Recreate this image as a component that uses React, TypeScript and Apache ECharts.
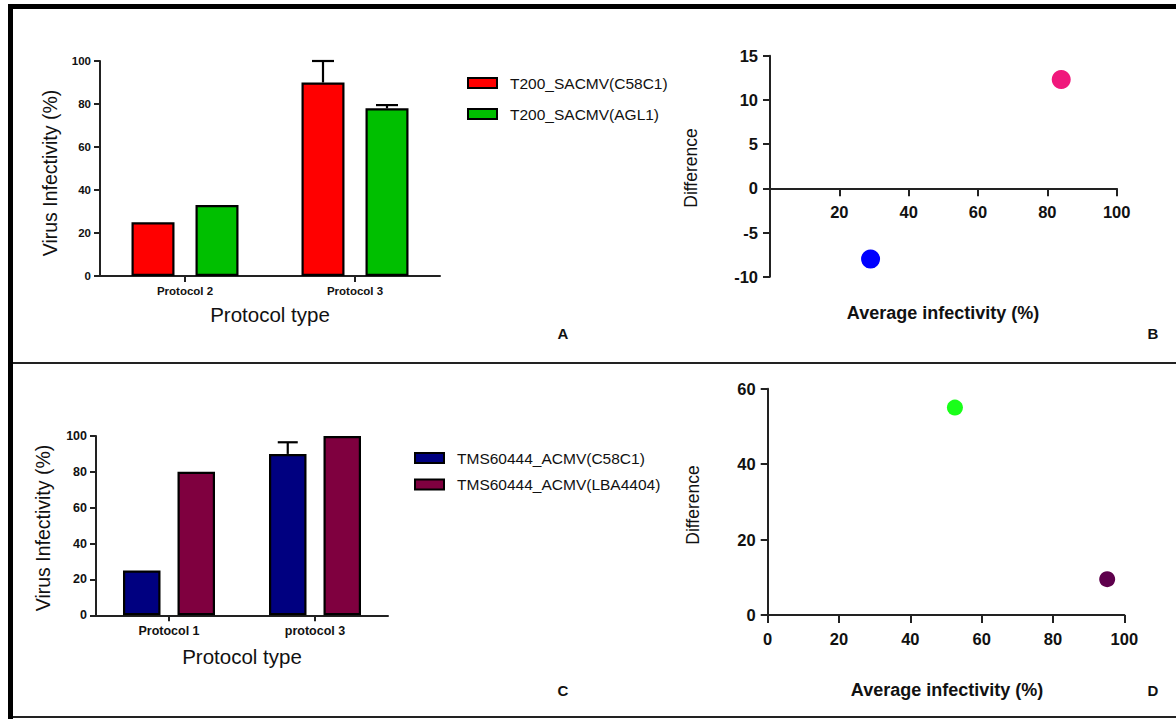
import React, { useEffect, useRef } from "react";
import * as echarts from "echarts";

// ---- Data ----
const categoriesA = ["Protocol 2", "Protocol 3"];
const namesA = ["T200_SACMV(C58C1)", "T200_SACMV(AGL1)"];
const valuesA1 = [25, 90];
const errorsA1 = [0, 10];
const valuesA2 = [33, 78];
const errorsA2 = [0, 1.5];

const categoriesC = ["Protocol 1", "protocol 3"];
const namesC = ["TMS60444_ACMV(C58C1)", "TMS60444_ACMV(LBA4404)"];
const valuesC1 = [25, 90];
const errorsC1 = [0, 6.5];
const valuesC2 = [80, 100];
const errorsC2 = [0, 0];

const averageB = [29, 84];
const differenceB = [-8, 12.3];
const averageD = [52.5, 95.2];
const differenceD = [55, 9.5];

const ticksBarY = { min: 0, max: 100, interval: 20 };
const ticksBY = { min: -10, max: 15, interval: 5 };
const ticksDY = { min: 0, max: 60, interval: 20 };
const ticksX = { min: 0, max: 100, interval: 20 };

// ---- Styles ----
const FONT = "'Liberation Sans', Arial, sans-serif";
const colorsA = ["#ff0000", "#00bf00"];
const colorsC = ["#000080", "#7f003f"];
const pointColorsB = ["#0000ff", "#f0187c"];
const pointColorsD = ["#19ff19", "#5e004c"];
const AXIS = "#222";

const barWA = 43;
const gapA = 21;
const barWC = 37.5;
const gapC = 17;

const gridB = { left: 770, top: 55.7, width: 346.7, height: 221 };

function errorSeries(xi: number, yi: number, values: number[], errors: number[], offset: number, cap: number) {
  return {
    type: "custom",
    xAxisIndex: xi,
    yAxisIndex: yi,
    z: 5,
    silent: true,
    encode: { x: 0, y: 1 },
    data: values.map((v, i) => [i, v, errors[i]]).filter((d) => d[2] > 0),
    renderItem: (params: any, api: any) => {
      const cat = api.value(0);
      const val = api.value(1);
      const err = api.value(2);
      const base = api.coord([cat, val]);
      const top = api.coord([cat, val + err]);
      const x = base[0] + offset;
      const style = { stroke: "#000", lineWidth: 2.2 };
      return {
        type: "group",
        children: [
          { type: "line", shape: { x1: x, y1: base[1], x2: x, y2: top[1] }, style },
          { type: "line", shape: { x1: x - cap, y1: top[1], x2: x + cap, y2: top[1] }, style },
        ],
      };
    },
  };
}

function valueAxis(gridIndex: number, ticks: any, opts: any = {}) {
  return {
    type: "value",
    gridIndex,
    min: ticks.min,
    max: ticks.max,
    interval: ticks.interval,
    offset: opts.offset ?? 0,
    splitLine: { show: false },
    axisLine: { show: true, onZero: false, lineStyle: { color: AXIS, width: 2 } },
    axisTick: { show: true, length: opts.tickLen ?? 6, lineStyle: { color: AXIS, width: 2 } },
    axisLabel: {
      fontFamily: FONT,
      fontWeight: "bold",
      fontSize: opts.fontSize ?? 11,
      color: "#111",
      margin: opts.margin ?? 9,
      showMinLabel: opts.showMinLabel ?? true,
    },
  };
}

function categoryAxis(gridIndex: number, data: string[], fontSize: number) {
  return {
    type: "category",
    gridIndex,
    data,
    axisLine: { show: true, lineStyle: { color: AXIS, width: 2 } },
    axisTick: { show: true, alignWithLabel: true, length: 6, lineStyle: { color: AXIS, width: 2 } },
    axisLabel: { fontFamily: FONT, fontWeight: "bold", fontSize, color: "#111", margin: 9 },
    splitLine: { show: false },
  };
}

function txt(text: string, x: number, y: number, size: number, bold = false, rotate = false) {
  return {
    type: "text",
    x,
    y,
    rotation: rotate ? Math.PI / 2 : 0,
    style: {
      text,
      fill: "#111",
      font: `${bold ? "bold " : ""}${size}px ${FONT}`,
      align: "center",
      verticalAlign: "middle",
    },
  };
}

export default function App() {
  const ref = useRef<HTMLDivElement>(null);

  useEffect(() => {
    if (!ref.current) return;
    const chart = echarts.init(ref.current, undefined, { renderer: "svg" });

    // x axis of panel B sits on the y = 0 line
    const zeroShiftB = -gridB.height * (0 - ticksBY.min) / (ticksBY.max - ticksBY.min);

    const option: any = {
      animation: false,
      backgroundColor: "#ffffff",
      textStyle: { fontFamily: FONT },
      grid: [
        { left: 100, top: 61, width: 340, height: 215, containLabel: false },
        { ...gridB, containLabel: false },
        { left: 96, top: 436, width: 292, height: 179.3, containLabel: false },
        { left: 767.7, top: 388.7, width: 356.6, height: 226.3, containLabel: false },
      ],
      xAxis: [
        categoryAxis(0, categoriesA, 11.5),
        valueAxis(1, ticksX, { fontSize: 16.5, margin: 15, tickLen: 8, showMinLabel: false, offset: zeroShiftB }),
        categoryAxis(2, categoriesC, 12.5),
        valueAxis(3, ticksX, { fontSize: 16.5, margin: 15, tickLen: 8 }),
      ],
      yAxis: [
        valueAxis(0, ticksBarY, { fontSize: 11.5, margin: 9 }),
        valueAxis(1, ticksBY, { fontSize: 16.5, margin: 12, tickLen: 7 }),
        valueAxis(2, ticksBarY, { fontSize: 12.5, margin: 9 }),
        valueAxis(3, ticksDY, { fontSize: 16.5, margin: 12, tickLen: 7 }),
      ],
      legend: [
        {
          data: namesA,
          left: 462,
          top: 70,
          orient: "vertical",
          itemWidth: 29,
          itemHeight: 10,
          itemGap: 15,
          icon: "rect",
          textStyle: { fontFamily: FONT, fontSize: 15.5, color: "#111", padding: [0, 0, 0, 8] },
        },
        {
          data: namesC,
          left: 409,
          top: 445,
          orient: "vertical",
          itemWidth: 29,
          itemHeight: 10,
          itemGap: 10.5,
          icon: "rect",
          textStyle: { fontFamily: FONT, fontSize: 15.5, color: "#111", padding: [0, 0, 0, 8] },
        },
      ],
      series: [
        {
          name: namesA[0],
          type: "bar",
          xAxisIndex: 0,
          yAxisIndex: 0,
          data: valuesA1,
          barWidth: barWA,
          barGap: `${(gapA / barWA) * 100}%`,
          itemStyle: { color: colorsA[0], borderColor: "#000", borderWidth: 2.2 },
        },
        {
          name: namesA[1],
          type: "bar",
          xAxisIndex: 0,
          yAxisIndex: 0,
          data: valuesA2,
          barWidth: barWA,
          barGap: `${(gapA / barWA) * 100}%`,
          itemStyle: { color: colorsA[1], borderColor: "#000", borderWidth: 2.2 },
        },
        errorSeries(0, 0, valuesA1, errorsA1, -(barWA + gapA) / 2, 11),
        errorSeries(0, 0, valuesA2, errorsA2, (barWA + gapA) / 2, 11),
        {
          name: namesC[0],
          type: "bar",
          xAxisIndex: 2,
          yAxisIndex: 2,
          data: valuesC1,
          barWidth: barWC,
          barGap: `${(gapC / barWC) * 100}%`,
          itemStyle: { color: colorsC[0], borderColor: "#000", borderWidth: 2.2 },
        },
        {
          name: namesC[1],
          type: "bar",
          xAxisIndex: 2,
          yAxisIndex: 2,
          data: valuesC2,
          barWidth: barWC,
          barGap: `${(gapC / barWC) * 100}%`,
          itemStyle: { color: colorsC[1], borderColor: "#000", borderWidth: 2.2 },
        },
        errorSeries(2, 2, valuesC1, errorsC1, -(barWC + gapC) / 2, 10),
        errorSeries(2, 2, valuesC2, errorsC2, (barWC + gapC) / 2, 10),
        {
          type: "scatter",
          xAxisIndex: 1,
          yAxisIndex: 1,
          symbolSize: 19,
          data: averageB.map((x, i) => ({
            value: [x, differenceB[i]],
            itemStyle: { color: pointColorsB[i], opacity: 1 },
          })),
        },
        {
          type: "scatter",
          xAxisIndex: 3,
          yAxisIndex: 3,
          symbolSize: 16,
          data: averageD.map((x, i) => ({
            value: [x, differenceD[i]],
            itemStyle: { color: pointColorsD[i], opacity: 1 },
          })),
        },
      ],
      graphic: [
        { type: "rect", shape: { x: 8, y: 4, width: 5, height: 715 }, style: { fill: "#000" } },
        { type: "rect", shape: { x: 8, y: 4, width: 1168, height: 5 }, style: { fill: "#000" } },
        { type: "rect", shape: { x: 13, y: 362, width: 1163, height: 2 }, style: { fill: "#222" } },
        { type: "rect", shape: { x: 13, y: 716, width: 1163, height: 2 }, style: { fill: "#222" } },
        txt("Protocol type", 270, 314, 20.5),
        txt("Virus Infectivity (%)", 50, 173, 19.5, false, true),
        txt("Average infectivity (%)", 943, 313, 18, true),
        txt("Difference", 691, 168, 17.5, false, true),
        txt("Protocol type", 242, 656, 20.5),
        txt("Virus Infectivity (%)", 43, 528, 19.5, false, true),
        txt("Average infectivity (%)", 947, 690, 18, true),
        txt("Difference", 693, 505, 17.5, false, true),
        txt("A", 563, 333, 15, true),
        txt("B", 1153, 333, 15, true),
        txt("C", 563, 690, 15, true),
        txt("D", 1153, 690, 15, true),
      ],
    };

    chart.setOption(option);
    return () => {
      chart.dispose();
    };
  }, []);

  return (
    <div
      ref={ref}
      style={{ position: "absolute", left: 0, top: 0, width: 1176, height: 719, background: "#fff" }}
    />
  );
}
